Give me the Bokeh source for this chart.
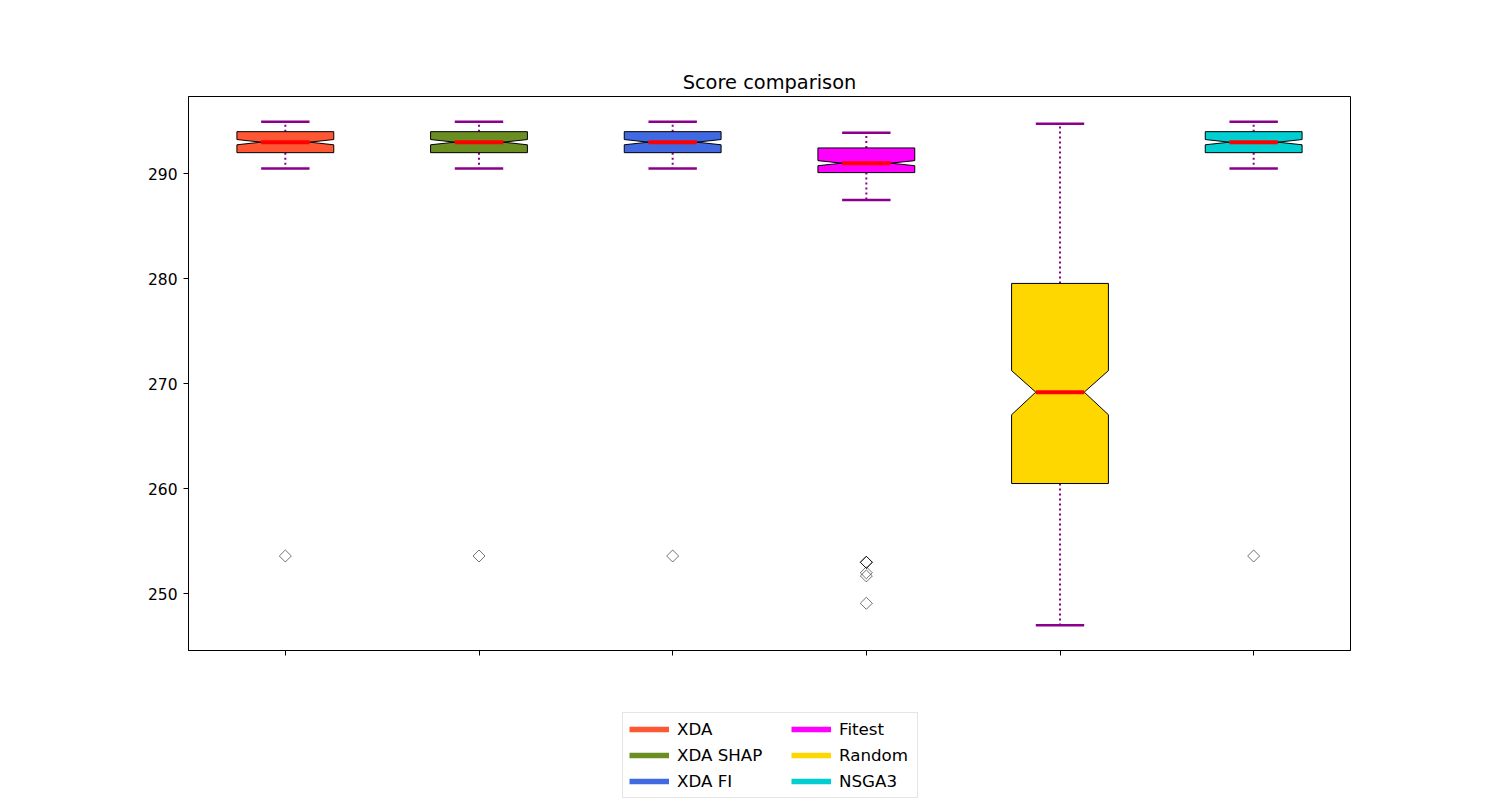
import numpy as np
from bokeh.plotting import figure
from bokeh.layouts import column
from bokeh.models import Range1d, FixedTicker, Legend, LegendItem
from bokeh.embed import file_html
from bokeh.resources import INLINE

# ---- data ----
methods = ["XDA", "XDA SHAP", "XDA FI", "Fitest", "Random", "NSGA3"]
colors = ["#FF5733", "#6B8E23", "#4169E1", "#FF00FF", "#FFD700", "#00CED1"]
positions = [1, 2, 3, 4, 5, 6]
q1 = [292.0, 292.0, 292.0, 290.1, 260.5, 292.0]
q3 = [294.0, 294.0, 294.0, 292.45, 279.55, 294.0]
med = [293.0, 293.0, 293.0, 291.0, 269.2, 293.0]
ci_lo = [292.75, 292.75, 292.75, 290.76, 267.05, 292.75]
ci_hi = [293.25, 293.25, 293.25, 291.24, 271.25, 293.25]
whisker_lo = [290.5, 290.5, 290.5, 287.5, 247.0, 290.5]
whisker_hi = [294.95, 294.95, 294.95, 293.9, 294.75, 294.95]
fliers = [[253.6], [253.6], [253.6], [253.0, 253.0, 253.0, 252.0, 251.7, 249.1], [], [253.6]]
y_ticks = [250, 260, 270, 280, 290]

box_width = 0.5

# ---- main figure ----
all_lo = min(min(whisker_lo), min(v for f in fliers for v in f))
all_hi = max(max(whisker_hi), max(v for f in fliers for v in f))
pad = 0.05 * (all_hi - all_lo)

p = figure(width=1500, height=680, output_backend="svg", toolbar_location=None,
           x_range=Range1d(0.5, 6.5), y_range=Range1d(all_lo - pad, all_hi + pad),
           min_border_left=188, min_border_right=150, min_border_top=96, min_border_bottom=30,
           title="Score comparison")
p.background_fill_color = "white"
p.border_fill_color = "white"
p.outline_line_color = "black"
p.outline_line_width = 1
p.grid.visible = False

p.title.align = "center"
p.title.text_font = "DejaVu Sans"
p.title.text_font_size = "19.4px"
p.title.text_font_style = "normal"
p.title.text_color = "black"
p.title.standoff = 6

for ax in (p.xaxis[0], p.yaxis[0]):
    ax.axis_line_color = "black"
    ax.major_tick_line_color = "black"
    ax.major_tick_out = 5
    ax.major_tick_in = 0
    ax.minor_tick_line_color = None
    ax.major_label_text_font = "DejaVu Sans"
    ax.major_label_text_font_size = "15.5px"
    ax.major_label_text_color = "black"

p.yaxis.ticker = FixedTicker(ticks=y_ticks)
p.yaxis.major_label_standoff = 6
p.xaxis.ticker = FixedTicker(ticks=positions)
p.xaxis.major_label_overrides = {k: " " for k in positions}
p.xaxis.major_label_text_font_size = "2px"

# ---- boxes (notched, matplotlib path order) ----
xs, ys = [], []
for pos, a, b, m, lo, hi in zip(positions, q1, q3, med, ci_lo, ci_hi):
    L = pos - box_width * 0.5
    R = pos + box_width * 0.5
    nL = pos - box_width * 0.25
    nR = pos + box_width * 0.25
    xs.append([L, R, R, nR, R, R, L, L, nL, L, L])
    ys.append([a, a, lo, m, hi, b, b, hi, m, lo, a])

# whiskers (dotted)
wx = positions + positions
wy0 = q3 + q1
wy1 = whisker_hi + whisker_lo
p.segment(x0=wx, y0=wy0, x1=wx, y1=wy1, line_color="#8B008B", line_width=2, line_dash="2 3")

p.patches(xs=xs, ys=ys, fill_color=colors, line_color="black", line_width=1)

# caps
cx0 = [x - box_width * 0.25 for x in positions] * 2
cx1 = [x + box_width * 0.25 for x in positions] * 2
cy = whisker_hi + whisker_lo
p.segment(x0=cx0, y0=cy, x1=cx1, y1=cy, line_color="#8B008B", line_width=2.5)

# medians
mx0 = [x - box_width * 0.25 for x in positions]
mx1 = [x + box_width * 0.25 for x in positions]
p.segment(x0=mx0, y0=med, x1=mx1, y1=med, line_color="red", line_width=4)

# fliers
fx = [pos for pos, f in zip(positions, fliers) for _ in f]
fy = [v for f in fliers for v in f]
p.scatter(x=fx, y=fy, marker="square", size=8.5, angle=np.pi / 4,
          fill_color=None, line_color="black", line_alpha=0.55, line_width=1)

# ---- legend figure (two columns) ----
lp = figure(width=1500, height=120, output_backend="svg", toolbar_location=None,
            x_range=Range1d(0, 1), y_range=Range1d(0, 1),
            x_axis_location=None, y_axis_location=None,
            min_border=0, outline_line_color=None)
lp.grid.visible = False
lp.background_fill_color = "white"
lp.border_fill_color = "white"

dummies = [lp.line(x=[np.nan, np.nan], y=[np.nan, np.nan], line_color=c, line_width=5.5) for c in colors]
items = [LegendItem(label=m, renderers=[r]) for m, r in zip(methods, dummies)]

def make_legend(its, loc, label_width, bordered):
    lg = Legend(items=its, location=loc, orientation="vertical",
                glyph_width=40, glyph_height=20, label_height=20,
                label_width=label_width, label_standoff=8, spacing=6,
                padding=6, margin=0,
                label_text_font="DejaVu Sans", label_text_font_size="16.7px",
                label_text_color="black")
    if bordered:
        lg.border_line_color = "#cccccc"
        lg.border_line_width = 1
        lg.background_fill_color = "white"
        lg.background_fill_alpha = 0.8
    else:
        lg.border_line_color = None
        lg.background_fill_alpha = 0
    return lg

leg1 = make_legend(items[:3], (434, 2), 234, True)
leg2 = make_legend(items[3:], (603, 9), 60, False)
lp.add_layout(leg1, "center")
lp.add_layout(leg2, "center")

layout = column(p, lp, spacing=0)
open("out.html", "w").write(file_html(layout, INLINE))
